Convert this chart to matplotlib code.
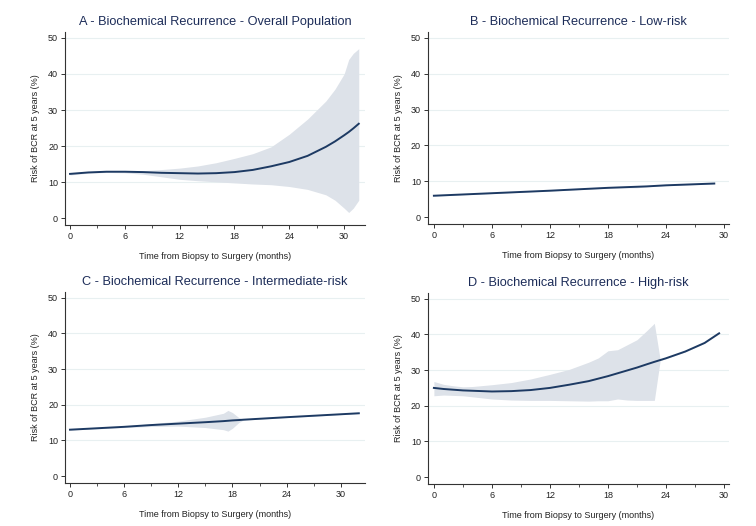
import matplotlib
matplotlib.use("Agg")
import matplotlib.pyplot as plt
from matplotlib.ticker import MultipleLocator

plt.rcParams["font.family"] = ["Liberation Sans", "DejaVu Sans"]

# A - overall population
a_x = [0, 2, 4, 6, 8, 10, 12, 14, 16, 18, 20, 22, 24, 26, 28, 29, 30, 30.5, 31, 31.6]
a_y = [12.3, 12.7, 12.9, 12.9, 12.8, 12.6, 12.5, 12.4, 12.5, 12.8, 13.4, 14.4, 15.6,
       17.3, 19.8, 21.3, 23.0, 23.9, 24.9, 26.2]
a_hi = [12.6, 12.9, 13.1, 13.1, 13.2, 13.5, 13.9, 14.5, 15.4, 16.6, 17.9, 19.8, 23.3,
        27.5, 32.5, 35.8, 40.0, 44.0, 45.7, 47.0]
a_lo = [12.0, 12.5, 12.7, 12.6, 12.2, 11.5, 10.8, 10.4, 10.1, 9.8, 9.5, 9.3, 8.8,
        8.0, 6.5, 5.0, 2.8, 1.6, 2.8, 5.0]

# B - low risk
b_x = [0, 6, 12, 18, 20, 21, 22, 24, 29]
b_y = [6.0, 6.7, 7.4, 8.2, 8.4, 8.5, 8.6, 8.9, 9.4]
b_hi = [6.1, 6.8, 7.5, 8.3, 8.6, 8.8, 8.7, 9.0, 9.5]
b_lo = [5.9, 6.6, 7.3, 8.1, 8.2, 8.2, 8.5, 8.8, 9.3]

# C - intermediate risk
c_x = [0, 6, 9, 12, 15, 17, 17.5, 18, 18.7, 19.2, 24, 32]
c_y = [13.0, 13.8, 14.3, 14.7, 15.1, 15.4, 15.5, 15.6, 15.7, 15.8, 16.5, 17.6]
c_hi = [13.1, 14.0, 14.7, 15.4, 16.5, 17.6, 18.4, 17.8, 16.4, 15.9, 16.6, 17.7]
c_lo = [12.9, 13.6, 13.9, 14.0, 13.6, 13.0, 12.6, 13.4, 15.0, 15.7, 16.4, 17.5]

# D - high risk
d_x = [0, 1, 2, 3, 4, 6, 8, 10, 12, 14, 16, 17, 18, 19, 20, 21, 22, 22.8, 23.4,
       24, 26, 28, 29.5]
d_y = [25.0, 24.7, 24.5, 24.3, 24.2, 24.0, 24.1, 24.4, 25.0, 25.9, 26.9, 27.6, 28.3,
       29.1, 29.9, 30.7, 31.6, 32.3, 32.8, 33.3, 35.2, 37.6, 40.3]
d_hi = [26.8, 26.0, 25.6, 25.3, 25.4, 25.9, 26.5, 27.5, 28.8, 30.2, 32.2, 33.4, 35.4,
        35.7, 37.1, 38.5, 41.0, 43.1, 33.0, 33.4, 35.3, 37.7, 40.4]
d_lo = [22.8, 23.0, 22.9, 22.8, 22.5, 21.9, 21.6, 21.5, 21.5, 21.4, 21.3, 21.4, 21.4,
        21.9, 21.6, 21.5, 21.5, 21.5, 32.6, 33.2, 35.1, 37.5, 40.2]

titles = ["A - Biochemical Recurrence - Overall Population",
          "B - Biochemical Recurrence - Low-risk",
          "C - Biochemical Recurrence - Intermediate-risk",
          "D - Biochemical Recurrence - High-risk"]
panels = [(a_x, a_y, a_lo, a_hi), (b_x, b_y, b_lo, b_hi),
          (c_x, c_y, c_lo, c_hi), (d_x, d_y, d_lo, d_hi)]

# axes boxes in figure fraction: left, bottom, width, height
boxes = [[0.086, 0.572, 0.397, 0.367],
         [0.566, 0.574, 0.398, 0.365],
         [0.086, 0.082, 0.397, 0.363],
         [0.566, 0.080, 0.398, 0.363]]
xlims = [(-0.55, 32.3), (-0.62, 30.5), (-0.55, 32.7), (-0.62, 30.5)]

navy = "#1d3a63"
band = "#dde2e9"
title_col = "#1c2c58"

fig = plt.figure(figsize=(7.56, 5.26), dpi=100)

for i in range(4):
    x, y, lo, hi = panels[i]
    ax = fig.add_axes(boxes[i])
    ax.fill_between(x, lo, hi, color=band, lw=0)
    ax.plot(x, y, color=navy, lw=1.4)
    ax.set_xlim(*xlims[i])
    ax.set_ylim(-1.9, 51.6)
    ax.set_xticks([0, 6, 12, 18, 24, 30])
    ax.xaxis.set_minor_locator(MultipleLocator(3))
    ax.set_yticks([0, 10, 20, 30, 40, 50])
    for g in [10, 20, 30, 40, 50]:
        ax.axhline(g, color="#e8f0f1", lw=0.8, zorder=0)
    for s in ["top", "right"]:
        ax.spines[s].set_visible(False)
    for s in ["left", "bottom"]:
        ax.spines[s].set_color("#333333")
        ax.spines[s].set_linewidth(0.8)
    ax.tick_params(axis="both", which="major", labelsize=6.5, length=3,
                   width=0.7, color="#333333", labelcolor="#222222", pad=2)
    ax.tick_params(axis="x", which="minor", length=2, width=0.6, color="#333333")
    ax.set_xlabel("Time from Biopsy to Surgery (months)", fontsize=6.5,
                  color="#222222", labelpad=8)
    ax.set_ylabel("Risk of BCR at 5 years (%)", fontsize=6.5,
                  color="#222222", labelpad=6)
    ax.set_title(titles[i], fontsize=9.2, color=title_col, pad=5)

plt.savefig("out.png", dpi=100)
